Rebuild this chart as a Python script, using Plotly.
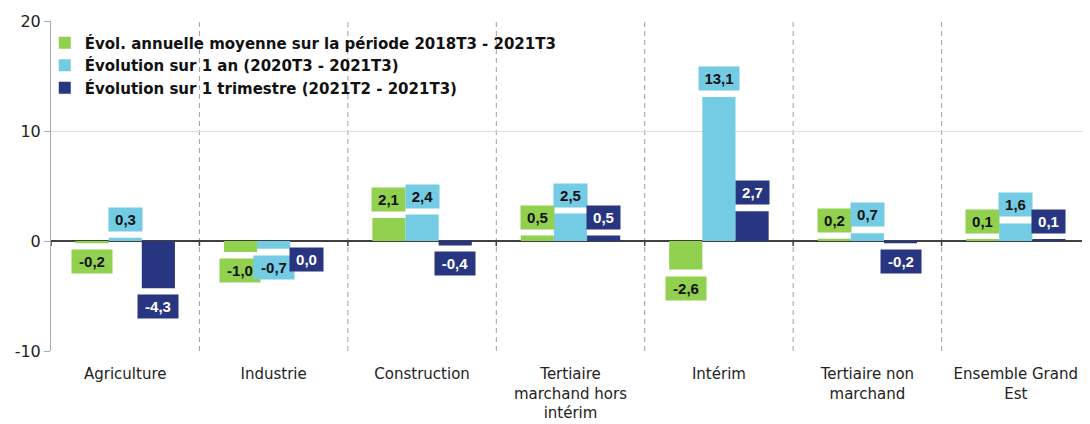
import plotly.graph_objects as go

categories = ["Agriculture", "Industrie", "Construction",
              "Tertiaire<br>marchand hors<br>intérim", "Intérim",
              "Tertiaire non<br>marchand", "Ensemble Grand<br>Est"]
series_names = ["Évol. annuelle moyenne sur la période 2018T3 - 2021T3",
                "Évolution sur 1 an (2020T3 - 2021T3)",
                "Évolution sur 1 trimestre (2021T2 - 2021T3)"]
evol_annuelle = [-0.2, -1.0, 2.1, 0.5, -2.6, 0.2, 0.1]
evol_1an = [0.3, -0.7, 2.4, 2.5, 13.1, 0.7, 1.6]
evol_1trim = [-4.3, 0.0, -0.4, 0.5, 2.7, -0.2, 0.1]
y_ticks = [-10, 0, 10, 20]

colors = ["#92D050", "#74CCE4", "#283580"]
label_colors = ["#111111", "#111111", "#FFFFFF"]
all_series = [evol_annuelle, evol_1an, evol_1trim]

FONT = "DejaVu Sans"
bargap = 0.33
bar_w = (1 - bargap) / 3

fig = go.Figure()
for name, vals, col in zip(series_names, all_series, colors):
    fig.add_trace(go.Bar(x=list(range(len(categories))), y=vals, name=name,
                         marker=dict(color=col, line=dict(width=0))))

annotations = []
for s, (vals, col, tcol) in enumerate(zip(all_series, colors, label_colors)):
    off = (s - 1) * bar_w
    for i, v in enumerate(vals):
        pos = v > 0
        txt = f"{v:.1f}".replace(".", ",")
        annotations.append(dict(
            x=i + off, y=v, xref="x", yref="y",
            text="<b>" + txt + "</b>",
            showarrow=False, bgcolor=col, borderpad=3,
            width=27 if len(txt) <= 3 else 34,
            font=dict(family="Liberation Sans", size=15, color=tcol),
            yanchor="bottom" if pos else "top",
            yshift=6 if pos else -6,
        ))

shapes = []
for i in range(len(categories)):
    shapes.append(dict(type="line", xref="x", yref="y", x0=i + 0.5, x1=i + 0.5,
                       y0=-10, y1=20, line=dict(color="#A0A0A0", width=1, dash="5px,4px"),
                       layer="below"))
for i in range(len(categories) + 1):
    shapes.append(dict(type="line", xref="x", yref="y", x0=i - 0.5, x1=i - 0.5,
                       y0=0, y1=-0.45, line=dict(color="#404040", width=1.5)))

# page body has an 8px margin: figure is sized so the window shows it fully
fig.update_layout(
    width=1082, height=416,
    margin=dict(l=43, r=0, t=13, b=73),
    paper_bgcolor="white", plot_bgcolor="white",
    barmode="group", bargap=bargap, bargroupgap=0,
    font=dict(family=FONT, size=15, color="#222222"),
    showlegend=True,
    legend=dict(x=-0.006, y=0.983, xanchor="left", yanchor="top",
                font=dict(family=FONT, size=15, color="#111111", weight="bold"),
                bgcolor="rgba(0,0,0,0)", tracegroupgap=0, itemwidth=30),
    annotations=annotations,
    shapes=shapes,
)
fig.update_xaxes(tickmode="array", tickvals=list(range(len(categories))),
                 ticktext=categories, range=[-0.5, len(categories) - 0.5],
                 showgrid=False, showline=False, ticks="", zeroline=False,
                 tickfont=dict(size=15),
                 ticklabelstandoff=12, automargin=False)
fig.update_yaxes(range=[-10, 20], tickvals=y_ticks, ticktext=[str(t) for t in y_ticks],
                 showgrid=True, gridcolor="#DDDDDD", gridwidth=1,
                 zeroline=True, zerolinecolor="#404040", zerolinewidth=2,
                 showline=True, linecolor="#AAAAAA", linewidth=1,
                 tickfont=dict(size=16),
                 ticks="outside", ticklen=6, tickcolor="#AAAAAA", automargin=False)

fig.write_html("out.html")
